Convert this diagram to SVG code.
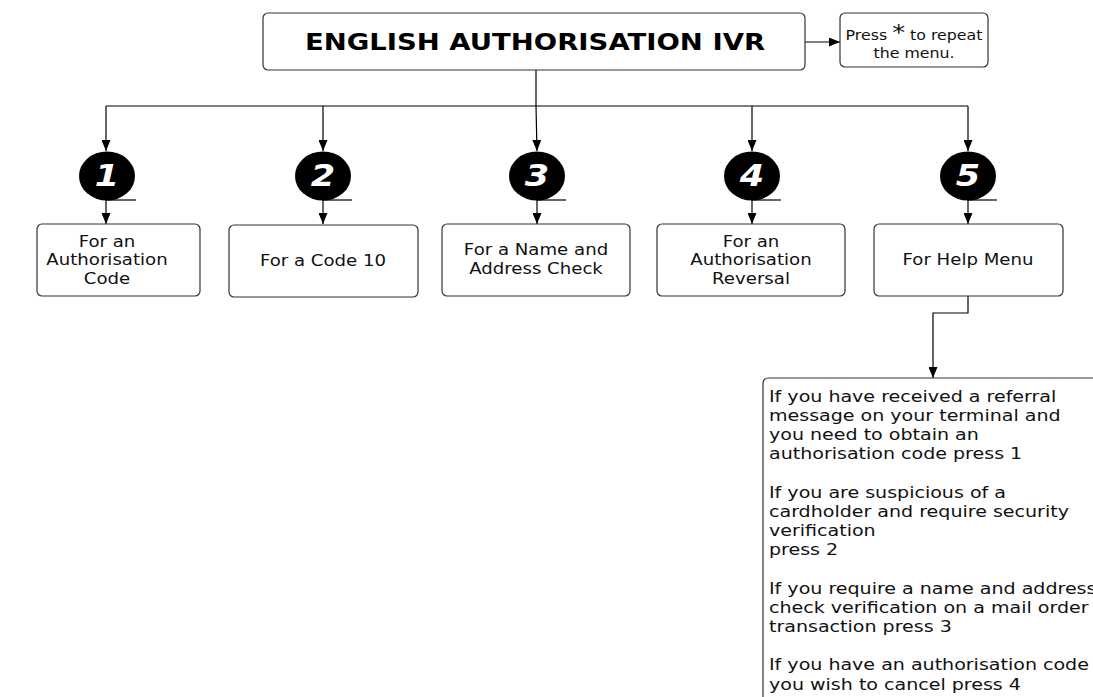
<svg xmlns="http://www.w3.org/2000/svg" width="1093" height="697" viewBox="0 0 1093 697">
<style>
.box{fill:#fff;stroke:#333;stroke-width:1.2}
.ln{fill:none;stroke:#000;stroke-width:1.2}
.t{font-family:"DejaVu Sans",Verdana,sans-serif;fill:#111}
.title{font-size:23.5px;font-weight:bold;fill:#000}
.lbl{font-size:15.5px}
.help{font-size:16px}
.sm{font-size:13.5px}
.num{font-family:"DejaVu Sans",Verdana,sans-serif;font-size:30px;font-weight:bold;font-style:italic;fill:#fff}
.circ{fill:#000}
</style>
<defs>
<marker id="ah" markerWidth="11" markerHeight="9" refX="11" refY="4.5" orient="auto" markerUnits="userSpaceOnUse">
<path d="M0,0 L11,4.5 L0,9 z" fill="#000"/>
</marker>
</defs>
<rect width="1093" height="697" fill="#fff"/>

<g id="connectors">
<path class="ln" d="M805,42 H840" marker-end="url(#ah)"/>
<path class="ln" d="M536,70 V106"/>
<path class="ln" d="M106,106 H968"/>
<path class="ln" d="M106,106 V151" marker-end="url(#ah)"/>
<path class="ln" d="M323,106 V151" marker-end="url(#ah)"/>
<path class="ln" d="M536,106 L537,151" marker-end="url(#ah)"/>
<path class="ln" d="M752,106 V151" marker-end="url(#ah)"/>
<path class="ln" d="M968,106 V151" marker-end="url(#ah)"/>
<path class="ln" d="M106,200 V224" marker-end="url(#ah)"/>
<path class="ln" d="M323,200 V224" marker-end="url(#ah)"/>
<path class="ln" d="M537,200 V224" marker-end="url(#ah)"/>
<path class="ln" d="M752,200 V224" marker-end="url(#ah)"/>
<path class="ln" d="M968,200 V224" marker-end="url(#ah)"/>
<path class="ln" d="M968,296 V313 H933 V378" marker-end="url(#ah)"/>
</g>

<g id="main">
<rect class="box" x="263" y="13" width="542" height="57" rx="5"/>
<text class="t title" transform="matrix(1.17 0 0 1 535 0)" x="0" y="50" text-anchor="middle">ENGLISH AUTHORISATION IVR</text>
</g>

<g id="repeat">
<rect class="box" x="840" y="13" width="148" height="54" rx="5"/>
<text class="t sm" transform="matrix(1.17 0 0 1 914 0)" text-anchor="middle"><tspan x="0" y="40.5">Press <tspan font-size="22px">*</tspan> to repeat</tspan><tspan x="0" y="58">the menu.</tspan></text>
</g>

<g id="opt1">
<ellipse class="circ" cx="107" cy="176" rx="28" ry="24.5"/>
<path class="ln" d="M107,200 H136"/>
<text class="num" transform="matrix(1.17 0 0 1 107 0)" x="0" y="186" text-anchor="middle">1</text>
</g>
<g id="opt2">
<ellipse class="circ" cx="323" cy="176" rx="28" ry="24.5"/>
<path class="ln" d="M323,200 H352"/>
<text class="num" transform="matrix(1.17 0 0 1 323 0)" x="0" y="186" text-anchor="middle">2</text>
</g>
<g id="opt3">
<ellipse class="circ" cx="537" cy="176" rx="28" ry="24.5"/>
<path class="ln" d="M537,200 H566"/>
<text class="num" transform="matrix(1.17 0 0 1 537 0)" x="0" y="186" text-anchor="middle">3</text>
</g>
<g id="opt4">
<ellipse class="circ" cx="752" cy="176" rx="28" ry="24.5"/>
<path class="ln" d="M752,200 H781"/>
<text class="num" transform="matrix(1.17 0 0 1 752 0)" x="0" y="186" text-anchor="middle">4</text>
</g>
<g id="opt5">
<ellipse class="circ" cx="968" cy="176" rx="28" ry="24.5"/>
<path class="ln" d="M968,200 H997"/>
<text class="num" transform="matrix(1.17 0 0 1 968 0)" x="0" y="186" text-anchor="middle">5</text>
</g>

<g id="box1">
<rect class="box" x="37" y="224" width="163" height="72" rx="5"/>
<text class="t lbl" transform="matrix(1.17 0 0 1 107 0)" text-anchor="middle"><tspan x="0" y="247">For an</tspan><tspan x="0" y="265.5">Authorisation</tspan><tspan x="0" y="284">Code</tspan></text>
</g>
<g id="box2">
<rect class="box" x="229" y="225" width="189" height="72" rx="5"/>
<text class="t lbl" transform="matrix(1.17 0 0 1 323 0)" x="0" y="266" text-anchor="middle">For a Code 10</text>
</g>
<g id="box3">
<rect class="box" x="442" y="224" width="188" height="72" rx="5"/>
<text class="t lbl" transform="matrix(1.17 0 0 1 536 0)" text-anchor="middle"><tspan x="0" y="255">For a Name and</tspan><tspan x="0" y="274.5">Address Check</tspan></text>
</g>
<g id="box4">
<rect class="box" x="657" y="224" width="188" height="72" rx="5"/>
<text class="t lbl" transform="matrix(1.17 0 0 1 751 0)" text-anchor="middle"><tspan x="0" y="247">For an</tspan><tspan x="0" y="265.5">Authorisation</tspan><tspan x="0" y="284">Reversal</tspan></text>
</g>
<g id="box5">
<rect class="box" x="874" y="224" width="189" height="72" rx="5"/>
<text class="t lbl" transform="matrix(1.17 0 0 1 968 0)" x="0" y="265" text-anchor="middle">For Help Menu</text>
</g>

<g id="help">
<rect class="box" x="763" y="378" width="400" height="400" rx="5"/>
<text class="t help" transform="matrix(1.19 0 0 1 769 0)">
<tspan x="0" y="401.7">If you have received a referral</tspan>
<tspan x="0" y="420.9">message on your terminal and</tspan>
<tspan x="0" y="440.1">you need to obtain an</tspan>
<tspan x="0" y="459.3">authorisation code press 1</tspan>
<tspan x="0" y="497.7">If you are suspicious of a</tspan>
<tspan x="0" y="516.9">cardholder and require security</tspan>
<tspan x="0" y="536.1">verification</tspan>
<tspan x="0" y="555.3">press 2</tspan>
<tspan x="0" y="593.7">If you require a name and address</tspan>
<tspan x="0" y="612.9">check verification on a mail order</tspan>
<tspan x="0" y="632.1">transaction press 3</tspan>
<tspan x="0" y="670.5">If you have an authorisation code</tspan>
<tspan x="0" y="689.7">you wish to cancel press 4</tspan>
</text>
</g>
</svg>
